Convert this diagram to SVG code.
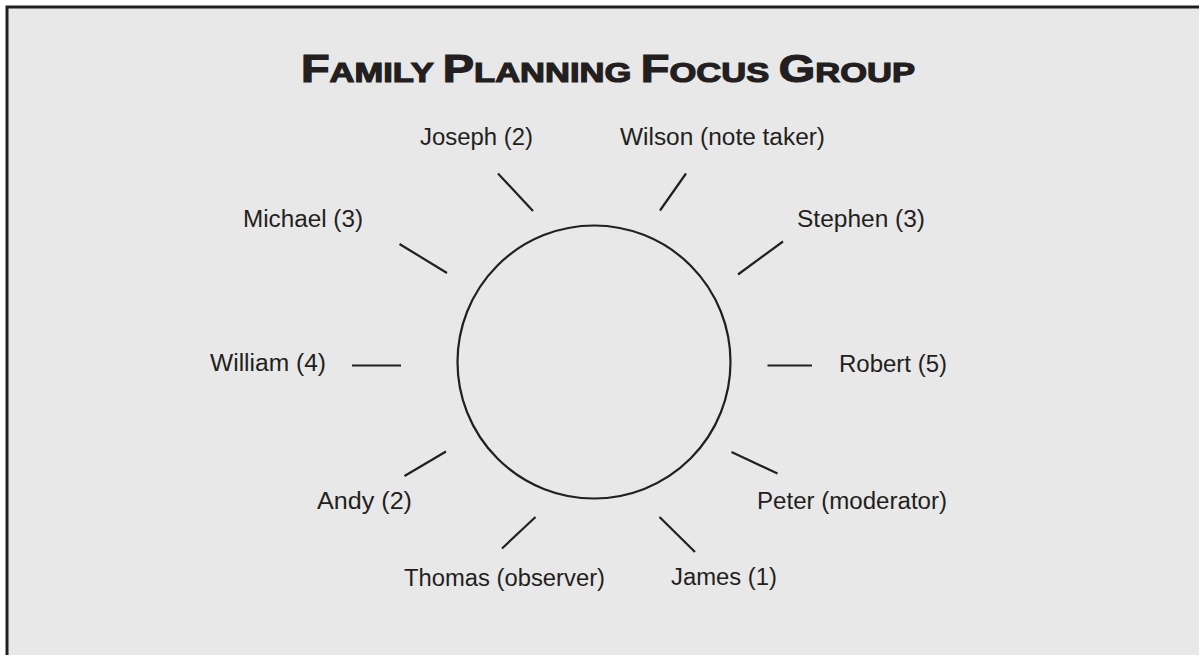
<svg xmlns="http://www.w3.org/2000/svg" width="1199" height="655" viewBox="0 0 1199 655">
<style>
.lbl{font-family:"Liberation Sans",Arial,sans-serif;font-size:23px;fill:#231f20;}
.ttl{font-family:"Liberation Sans",Arial,sans-serif;font-weight:bold;fill:#231f20;stroke:#231f20;stroke-width:1.2;}
.big{font-size:38px;}
.sm{font-size:28px;}
.ln{stroke:#231f20;stroke-width:2.2;fill:none;}
</style>
<rect x="0" y="0" width="1199" height="655" fill="#ffffff"/>
<rect x="7" y="7" width="1192" height="648" fill="#e7e8e7"/>
<path d="M5.5 7 H1199 M7 5.5 V655" stroke="#231f20" stroke-width="3" fill="none"/>
<text class="ttl" x="301" y="82" textLength="614" lengthAdjust="spacingAndGlyphs"><tspan class="big">F</tspan><tspan class="sm">AMILY </tspan><tspan class="big">P</tspan><tspan class="sm">LANNING </tspan><tspan class="big">F</tspan><tspan class="sm">OCUS </tspan><tspan class="big">G</tspan><tspan class="sm">ROUP</tspan></text>
<g id="table">
<circle cx="594" cy="362" r="136.5" class="ln"/>
</g>
<g id="connectors">
<line class="ln" x1="498" y1="173.5" x2="533" y2="211"/>
<line class="ln" x1="686" y1="173.5" x2="660" y2="210.5"/>
<line class="ln" x1="399.5" y1="244" x2="447" y2="273"/>
<line class="ln" x1="783" y1="241.5" x2="738" y2="274.5"/>
<line class="ln" x1="352" y1="365.5" x2="401" y2="365.5"/>
<line class="ln" x1="767.5" y1="365.5" x2="812" y2="365.5"/>
<line class="ln" x1="446" y1="451.5" x2="404.5" y2="476"/>
<line class="ln" x1="731.5" y1="452" x2="777.5" y2="473.5"/>
<line class="ln" x1="535.5" y1="517" x2="502" y2="548.5"/>
<line class="ln" x1="659.5" y1="517" x2="695" y2="552"/>
</g>
<g id="joseph"><text class="lbl" x="420" y="145" textLength="113" lengthAdjust="spacingAndGlyphs">Joseph (2)</text></g>
<g id="wilson"><text class="lbl" x="620" y="145" textLength="205" lengthAdjust="spacingAndGlyphs">Wilson (note taker)</text></g>
<g id="michael"><text class="lbl" x="243" y="227" textLength="120" lengthAdjust="spacingAndGlyphs">Michael (3)</text></g>
<g id="stephen"><text class="lbl" x="797" y="227" textLength="128" lengthAdjust="spacingAndGlyphs">Stephen (3)</text></g>
<g id="william"><text class="lbl" x="210" y="371" textLength="116" lengthAdjust="spacingAndGlyphs">William (4)</text></g>
<g id="robert"><text class="lbl" x="839" y="372" textLength="108" lengthAdjust="spacingAndGlyphs">Robert (5)</text></g>
<g id="andy"><text class="lbl" x="317" y="509" textLength="95" lengthAdjust="spacingAndGlyphs">Andy (2)</text></g>
<g id="peter"><text class="lbl" x="757" y="509" textLength="190" lengthAdjust="spacingAndGlyphs">Peter (moderator)</text></g>
<g id="thomas"><text class="lbl" x="404" y="586" textLength="201" lengthAdjust="spacingAndGlyphs">Thomas (observer)</text></g>
<g id="james"><text class="lbl" x="671" y="585" textLength="106" lengthAdjust="spacingAndGlyphs">James (1)</text></g>
</svg>
